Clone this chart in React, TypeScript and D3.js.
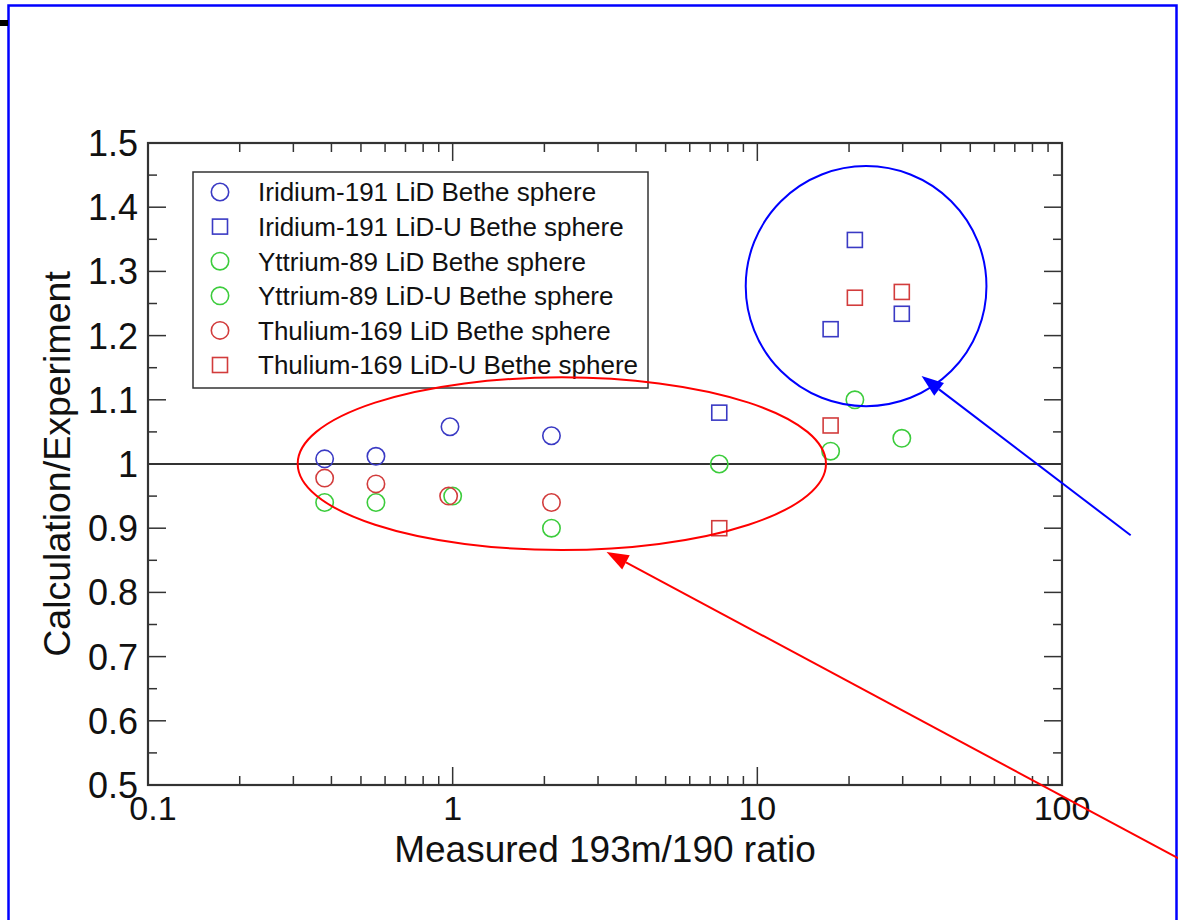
import React from "react";
import * as d3 from "d3";

const width = 1178;
const height = 920;
const margin = { top: 143, right: 116, bottom: 135, left: 148 };

// measured ratio (x) and calculation/experiment (y) per series
const irLidX = [0.38, 0.56, 0.98, 2.11];
const irLidY = [1.008, 1.012, 1.058, 1.044];
const irLiduX = [7.5, 17.4, 20.9, 29.8];
const irLiduY = [1.08, 1.21, 1.349, 1.234];
const yLidX = [0.38, 0.56, 1.0, 2.11];
const yLidY = [0.94, 0.94, 0.95, 0.9];
const yLiduX = [7.5, 17.4, 20.9, 29.8];
const yLiduY = [1.0, 1.02, 1.1, 1.04];
const tmLidX = [0.38, 0.56, 0.97, 2.11];
const tmLidY = [0.978, 0.969, 0.95, 0.94];
const tmLiduX = [7.5, 17.4, 20.9, 29.8];
const tmLiduY = [0.9, 1.06, 1.259, 1.268];

const seriesNames = [
  "Iridium-191 LiD Bethe sphere",
  "Iridium-191 LiD-U Bethe sphere",
  "Yttrium-89 LiD Bethe sphere",
  "Yttrium-89 LiD-U Bethe sphere",
  "Thulium-169 LiD Bethe sphere",
  "Thulium-169 LiD-U Bethe sphere",
];
const seriesShapes = ["circle", "square", "circle", "circle", "circle", "square"];
const seriesColors = ["#3a3ac4", "#3a3ac4", "#3ccc3c", "#3ccc3c", "#d23c3c", "#d23c3c"];
const seriesX = [irLidX, irLiduX, yLidX, yLiduX, tmLidX, tmLiduX];
const seriesY = [irLidY, irLiduY, yLidY, yLiduY, tmLidY, tmLiduY];

const xTickLabels = ["0.1", "1", "10", "100"];
const yTickLabels = ["0.5", "0.6", "0.7", "0.8", "0.9", "1", "1.1", "1.2", "1.3", "1.4", "1.5"];

// hand-drawn annotations, in data units
const redEllipse = { x0: 0.31, x1: 16.8, y0: 0.866, y1: 1.135 };
const blueCircle = { x0: 9.16, x1: 56.5, y0: 1.09, y1: 1.464 };
const redArrow = { x0: 245, y0: 0.384, x1: 3.2, y1: 0.863 };
const blueArrow = { x0: 168, y0: 0.889, x1: 34.6, y1: 1.137 };

const font = "'Liberation Sans', Arial, Helvetica, sans-serif";
const axisColor = "#333";

function Marker({ shape, cx, cy, color }) {
  if (shape === "square") {
    return <rect x={cx - 7.5} y={cy - 7.5} width={15} height={15} fill="none" stroke={color} strokeWidth={1.6} />;
  }
  return <circle cx={cx} cy={cy} r={8.7} fill="none" stroke={color} strokeWidth={1.6} />;
}

function Arrow({ x0, y0, x1, y1, color }) {
  const ang = Math.atan2(y1 - y0, x1 - x0);
  const len = 22;
  const half = 8;
  const bx = x1 - len * Math.cos(ang);
  const by = y1 - len * Math.sin(ang);
  const px = -Math.sin(ang) * half;
  const py = Math.cos(ang) * half;
  return (
    <g>
      <line x1={x0} y1={y0} x2={bx} y2={by} stroke={color} strokeWidth={2} />
      <path d={`M${x1},${y1}L${bx + px},${by + py}L${bx - px},${by - py}Z`} fill={color} />
    </g>
  );
}

export default function App() {
  const x = d3
    .scaleLog()
    .domain([0.1, 100])
    .range([margin.left, width - margin.right]);
  const y = d3
    .scaleLinear()
    .domain([0.5, 1.5])
    .range([height - margin.bottom, margin.top]);

  const [xl, xr] = x.range();
  const [yb, yt] = y.range();

  const xTicks = x.ticks();
  const isMajorX = (v) => Math.abs(Math.log10(v) - Math.round(Math.log10(v))) < 1e-6;
  const yMinor = d3.range(0, 21).map((i) => 0.5 + i * 0.05);
  const yMajor = yTickLabels.map(Number);

  const legendX = 193;
  const legendY = 172;
  const rowH = 34.6;

  return (
    <svg
      width={width}
      height={height}
      style={{ position: "absolute", left: 0, top: 0, background: "#fff" }}
      fontFamily={font}
    >
      <rect x={0} y={0} width={width} height={height} fill="#fff" />
      {/* page frame */}
      <rect x={8.5} y={5.5} width={1168} height={940} fill="none" stroke="#0000ff" strokeWidth={2.5} />
      <rect x={0} y={20} width={8} height={6} fill="#000" />

      {/* ticks */}
      <g stroke={axisColor} strokeWidth={1.5}>
        {xTicks.map((v, i) => {
          const len = isMajorX(v) ? 18 : 9;
          return (
            <g key={"xt" + i}>
              <line x1={x(v)} x2={x(v)} y1={yb} y2={yb - len} />
              <line x1={x(v)} x2={x(v)} y1={yt} y2={yt + len} />
            </g>
          );
        })}
        {yMinor.map((v, i) => {
          const len = i % 2 === 0 ? 18 : 9;
          return (
            <g key={"yt" + i}>
              <line x1={xl} x2={xl + len} y1={y(v)} y2={y(v)} />
              <line x1={xr} x2={xr - len} y1={y(v)} y2={y(v)} />
            </g>
          );
        })}
      </g>

      {/* reference line at 1 */}
      <line x1={xl} x2={xr} y1={y(1)} y2={y(1)} stroke={axisColor} strokeWidth={2.2} />

      {/* frame */}
      <rect x={xl} y={yt} width={xr - xl} height={yb - yt} fill="none" stroke={axisColor} strokeWidth={2.2} />

      {/* tick labels */}
      <g fill="#111">
        {yMajor.map((v, i) => (
          <text key={"yl" + i} x={xl - 10} y={y(v)} dy="0.36em" textAnchor="end" fontSize={36}>
            {yTickLabels[i]}
          </text>
        ))}
        {xTickLabels.map((t, i) => (
          <text key={"xl" + i} x={x(Number(t)) + (i === 0 ? 5 : 0)} y={yb + 35} textAnchor="middle" fontSize={34}>
            {t}
          </text>
        ))}
      </g>

      {/* axis titles */}
      <text x={(xl + xr) / 2} y={yb + 77} textAnchor="middle" fontSize={37} fill="#111">
        Measured 193m/190 ratio
      </text>
      <text
        transform={`translate(70, ${(yt + yb) / 2}) rotate(-90)`}
        textAnchor="middle"
        fontSize={37.5}
        fill="#111"
      >
        Calculation/Experiment
      </text>

      {/* legend */}
      <rect x={legendX} y={legendY} width={455} height={216} fill="#fff" stroke={axisColor} strokeWidth={1.5} />
      {seriesNames.map((name, i) => {
        const cy = legendY + 20 + i * rowH;
        return (
          <g key={"lg" + i}>
            <Marker shape={seriesShapes[i]} cx={220} cy={cy} color={seriesColors[i]} />
            <text x={258} y={cy} dy="0.36em" fontSize={26} fill="#111">
              {name}
            </text>
          </g>
        );
      })}

      {/* data */}
      {seriesX.map((xs, s) =>
        xs.map((v, i) => (
          <Marker key={`p${s}-${i}`} shape={seriesShapes[s]} cx={x(v)} cy={y(seriesY[s][i])} color={seriesColors[s]} />
        ))
      )}

      {/* annotations */}
      <ellipse
        cx={(x(redEllipse.x0) + x(redEllipse.x1)) / 2}
        cy={(y(redEllipse.y0) + y(redEllipse.y1)) / 2}
        rx={(x(redEllipse.x1) - x(redEllipse.x0)) / 2}
        ry={(y(redEllipse.y0) - y(redEllipse.y1)) / 2}
        fill="none"
        stroke="#ff0000"
        strokeWidth={2}
      />
      <ellipse
        cx={(x(blueCircle.x0) + x(blueCircle.x1)) / 2}
        cy={(y(blueCircle.y0) + y(blueCircle.y1)) / 2}
        rx={(x(blueCircle.x1) - x(blueCircle.x0)) / 2}
        ry={(y(blueCircle.y0) - y(blueCircle.y1)) / 2}
        fill="none"
        stroke="#0000ff"
        strokeWidth={2}
      />
      <Arrow x0={x(redArrow.x0)} y0={y(redArrow.y0)} x1={x(redArrow.x1)} y1={y(redArrow.y1)} color="#ff0000" />
      <Arrow x0={x(blueArrow.x0)} y0={y(blueArrow.y0)} x1={x(blueArrow.x1)} y1={y(blueArrow.y1)} color="#0000ff" />
    </svg>
  );
}
